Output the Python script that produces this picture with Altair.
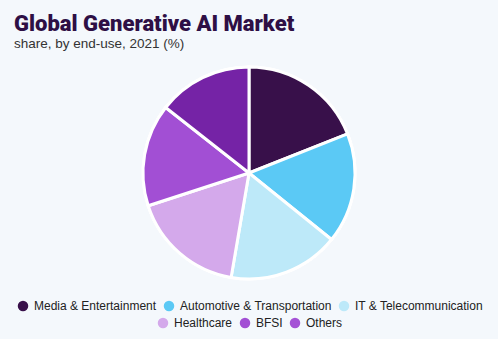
import altair as alt
import pandas as pd

categories = ["Media & Entertainment", "Automotive & Transportation", "IT & Telecommunication",
              "Healthcare", "BFSI", "Others"]
shares = [19.0, 16.8, 16.9, 17.3, 15.6, 14.4]
colors = ["#38104A", "#5BC9F5", "#BDE9F9", "#D4A9EB", "#A24FD4", "#7523A6"]
legend_colors2 = ["#38104A", "#5BC9F5", "#BDE9F9", "#D4A9EB", "#A24FD4", "#A552D6"]
row1 = categories[:3]
row2 = categories[3:]

df = pd.DataFrame({"category": categories, "share": shares, "order": list(range(6))})

W, H = 498, 226
PAD_TOP, PAD_BOTTOM = 60, 53

base = alt.Chart(df)

def pie(rng, values, lx, ly):
    return base.mark_arc(outerRadius=106, stroke="white", strokeWidth=3).encode(
        theta=alt.Theta("share:Q", stack=True),
        order=alt.Order("order:Q"),
        color=alt.Color(
            "category:N",
            scale=alt.Scale(domain=categories, range=rng),
            sort=categories,
            legend=alt.Legend(
                title=None, orient="none", direction="horizontal",
                values=values, legendX=lx, legendY=ly,
                symbolType="circle", symbolSize=110, symbolStrokeWidth=0,
                labelFont="Liberation Sans", labelFontSize=12, labelColor="#222222",
                columnPadding=6, labelOffset=5,
            ),
        ),
    )

layer2 = pie(legend_colors2, row2, 157, 257)
layer1 = pie(colors, row1, 17, 240)

chart = alt.layer(layer2, layer1).resolve_scale(color="independent").properties(
    width=W, height=H,
    autosize=alt.AutoSizeParams(type="none"),
    padding={"left": 0, "right": 0, "top": PAD_TOP, "bottom": PAD_BOTTOM},
    background="#F4F8FC",
    title=alt.TitleParams(
        text="Global Generative AI Market",
        subtitle="share, by end-use, 2021 (%)",
        anchor="start", frame="bounds", offset=0,
        dx=14, dy=-9,
        font="Roboto", fontSize=22, fontWeight=900, color="#2E0F45",
        subtitleFont="Liberation Sans", subtitleFontSize=13.5, subtitleColor="#333333",
        subtitlePadding=1,
    ),
).configure_view(stroke=None)

chart.save("out.html", embed_options={"renderer": "svg", "actions": False})
